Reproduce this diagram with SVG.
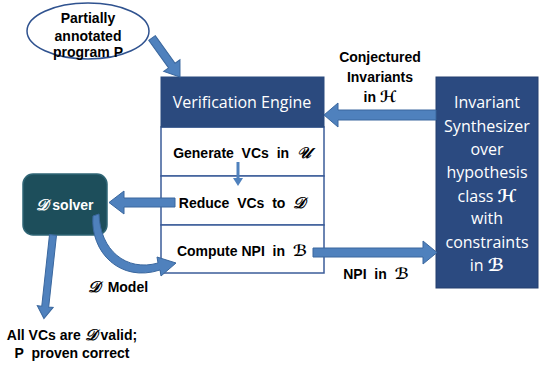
<svg xmlns="http://www.w3.org/2000/svg" width="541" height="368" viewBox="0 0 541 368">
<style>
text{white-space:pre}
.arr{fill:#4F81BD;stroke:#3A679E;stroke-width:1}
.b{font-family:"Liberation Sans",Arial,sans-serif;font-weight:bold;font-size:14px;fill:#000;text-anchor:middle}
.w{font-family:"Open Sans","Liberation Sans",sans-serif;font-size:16px;fill:#fff;text-anchor:middle}
.m{font-family:"DejaVu Serif","DejaVu Sans",serif;font-style:italic;font-size:1.1em}
.row{fill:#fff;stroke:#3B5C99;stroke-width:1.5}
</style>
<rect width="541" height="368" fill="#fff"/>
<g id="program">
<ellipse cx="88" cy="31" rx="61" ry="28" fill="#fff" stroke="#2F528F" stroke-width="1.5"/>
<text class="b" x="88" y="23" font-size="13">Partially</text>
<text class="b" x="88" y="41" font-size="13">annotated</text>
<text class="b" x="88" y="57" font-size="13">program P</text>
</g>
<g id="engine">
<rect class="row" x="161" y="127" width="163" height="49"/>
<rect class="row" x="161" y="176" width="163" height="49"/>
<rect class="row" x="161" y="225" width="163" height="48"/>
<rect x="161" y="77" width="163" height="50" fill="#2B4A7E" stroke="#2B4A7E"/>
<text class="w" x="242" y="108" font-size="18">Verification Engine</text>
<text class="b" x="242" y="158">Generate  VCs  in  <tspan class="m">𝒰</tspan></text>
<text class="b" x="242" y="208">Reduce  VCs  to  <tspan class="m">𝒟</tspan></text>
<text class="b" x="242" y="256">Compute NPI  in  <tspan class="m">ℬ</tspan></text>
</g>
<g id="synth">
<rect x="436" y="77" width="102" height="211" fill="#2B4A80" stroke="#243F6E"/>
<text class="w" x="487" y="108">Invariant</text>
<text class="w" x="487" y="132">Synthesizer</text>
<text class="w" x="487" y="155">over</text>
<text class="w" x="487" y="178">hypothesis</text>
<text class="w" x="487" y="202">class <tspan class="m" font-weight="bold">ℋ</tspan></text>
<text class="w" x="487" y="224">with</text>
<text class="w" x="487" y="248">constraints</text>
<text class="w" x="487" y="271">in <tspan class="m" font-weight="bold">ℬ</tspan></text>
</g>
<g id="dsolver">
<rect x="23" y="174" width="84" height="61" rx="10" fill="#1D4E5B" stroke="#2F6575" stroke-width="1.5"/>
<text class="b" x="65" y="210" style="fill:#fff" font-size="15"><tspan class="m">𝒟</tspan> solver</text>
</g>
<g id="connectors">
<polygon class="arr" transform="translate(152,38) rotate(54.3)" points="0,-4 34,-4 34,-10 48,0 34,10 34,4 0,4"/>
<polygon class="arr" points="436,110 338,110 338,103 324,115 338,127 338,120 436,120"/>
<polygon class="arr" points="175,198 124,198 124,191 109,202.5 124,214 124,207 175,207"/>
<polygon class="arr" points="313,248 423,248 423,241 437,252.5 423,264 423,257 313,257"/>
<line x1="238" y1="162" x2="238" y2="180" stroke="#4F81BD" stroke-width="3"/>
<polygon points="233,178 243,178 238,186" fill="#4F81BD"/>
<polygon class="arr" transform="translate(53,235) rotate(96.2)" points="0,-3.5 72,-3.5 72,-8 84,0 72,8 72,3.5 0,3.5"/>
<path class="arr" d="M93,216 C90,252 120,283 160,270 L161,276 L176,263 L157,257 L158,263 C126,272 100,250 99,214 Z"/>
</g>
<g id="labels">
<text class="b" x="380" y="62" font-size="15">Conjectured</text>
<text class="b" x="380" y="82" font-size="15">Invariants</text>
<text class="b" x="380" y="102" font-size="15">in <tspan class="m">ℋ</tspan></text>
<text class="b" x="376" y="279" font-size="15">NPI  in  <tspan class="m">ℬ</tspan></text>
<text class="b" x="118" y="292" font-size="15"><tspan class="m">𝒟</tspan>  Model</text>
<text class="b" x="72" y="340" font-size="14">All VCs are <tspan class="m">𝒟</tspan> valid;</text>
<text class="b" x="72" y="358" font-size="14">P  proven correct</text>
</g>
</svg>
